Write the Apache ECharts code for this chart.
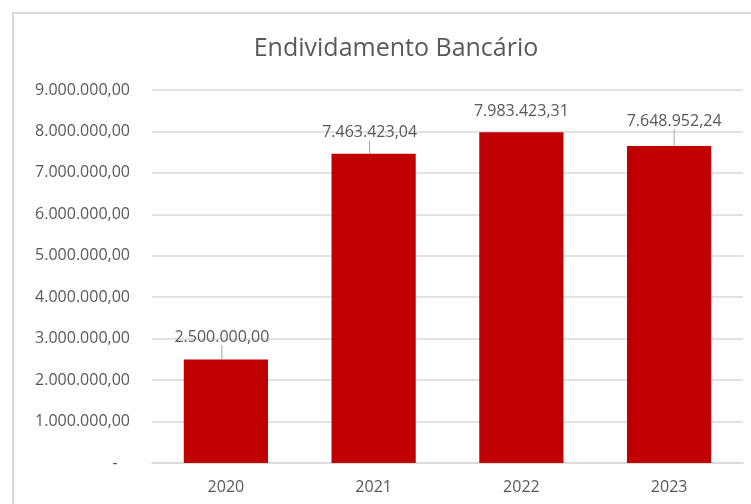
<!DOCTYPE html>
<html>
<head>
<meta charset="utf-8">
<script src="https://cdn.jsdelivr.net/npm/echarts@6/dist/echarts.min.js"></script>
<style>
html,body{margin:0;padding:0;background:#fff;}
#c{width:751px;height:504px;}
</style>
</head>
<body>
<div id="c"></div>
<script>
const titleText = "Endividamento Bancário";
const categories = ["2020", "2021", "2022", "2023"];
const values = [2500000.00, 7463423.04, 7983423.31, 7648952.24];
const yTicks = [0, 1000000, 2000000, 3000000, 4000000, 5000000, 6000000, 7000000, 8000000, 9000000];
const labelShift = [[-4, -9], [-4, -8], [0, -8], [5, -12]];
const showLeader = [true, true, false, true];

function fmtBR(v) {
  const neg = v < 0; v = Math.abs(v);
  const fixed = v.toFixed(2);
  let [ip, dp] = fixed.split(".");
  ip = ip.replace(/\B(?=(\d{3})+(?!\d))/g, ".");
  return (neg ? "-" : "") + ip + "," + dp;
}

const chart = echarts.init(document.getElementById('c'));
const font = "Open Sans";
chart.setOption({
  animation: false,
  backgroundColor: '#fff',
  title: {
    text: titleText, left: 391, top: 31, textAlign: 'center',
    textStyle: { fontFamily: font, fontSize: 25, fontWeight: 'normal', color: '#595959' }
  },
  graphic: [{
    type: 'polyline', silent: true,
    shape: { points: [[13, 504], [13, 13], [751, 13]] },
    style: { stroke: '#d9d9d9', lineWidth: 2, fill: null }
  }],
  grid: { left: 152, right: 8, top: 90, bottom: 41 },
  xAxis: {
    type: 'category', data: categories,
    axisLine: { show: true, lineStyle: { color: '#d9d9d9', width: 1.5 } },
    axisTick: { show: false },
    axisLabel: { fontFamily: font, fontSize: 16, color: '#595959', margin: 16 }
  },
  yAxis: {
    type: 'value', min: 0, max: 9000000, interval: 1000000,
    axisLine: { show: false }, axisTick: { show: false },
    splitLine: { lineStyle: { color: '#d9d9d9', width: 1.5 } },
    axisLabel: {
      fontFamily: font, fontSize: 16, color: '#595959', margin: 22,
      formatter: v => (yTicks.indexOf(v) >= 0 && v === 0) ? '-   ' : fmtBR(v)
    }
  },
  series: [{
    type: 'bar',
    data: values.map((v, i) => ({ value: v, labelLine: { show: showLeader[i] } })),
    barCategoryGap: '43%',
    itemStyle: { color: '#C00000' },
    label: {
      show: true, position: 'top', distance: 5,
      fontFamily: font, fontSize: 16, color: '#595959',
      formatter: p => fmtBR(p.value)
    },
    labelLayout: p => ({ dx: labelShift[p.dataIndex][0], dy: labelShift[p.dataIndex][1] }),
    labelLine: { show: true, lineStyle: { color: '#a6a6a6', width: 1 } }
  }]
});
</script>
</body>
</html>
